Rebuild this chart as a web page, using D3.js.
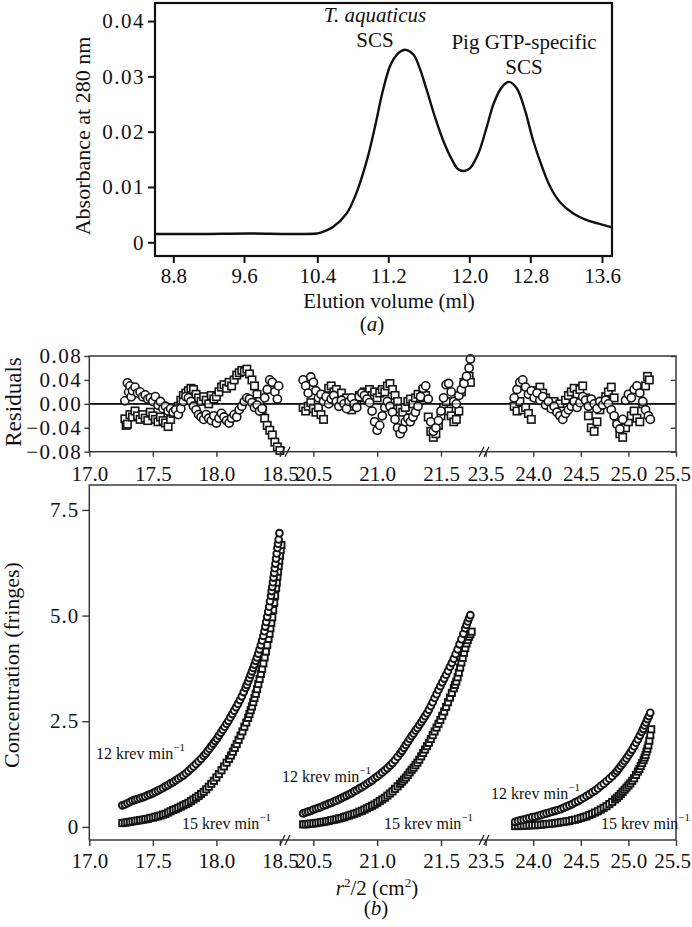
<!DOCTYPE html>
<html><head><meta charset="utf-8">
<script src="https://cdn.jsdelivr.net/npm/d3@7"></script>
<style>
body{margin:0;background:#fff;}
svg text{font-family:"Liberation Serif","Times New Roman",serif;fill:#111;}
</style></head><body>
<svg id="chart" width="692" height="927"></svg>
<script>
// ---------- Panel (a) data ----------
const elutionTicks = [8.8, 9.6, 10.4, 11.2, 12.0, 12.8, 13.6];
const absTicks = [0, 0.01, 0.02, 0.03, 0.04];
const elutionVolume = [8.59,9.10,9.67,10.10,10.40,10.43,10.58,10.73,10.84,10.96,11.05,11.14,11.23,11.32,11.375,11.45,11.51,11.58,11.66,11.74,11.83,11.89,11.95,12.01,12.12,12.23,12.32,12.43,12.52,12.62,12.73,12.83,12.93,13.02,13.13,13.28,13.43,13.58,13.69,13.71];
const absorbance = [0.0015,0.0015,0.0016,0.0015,0.0016,0.0017,0.0028,0.0052,0.0089,0.0149,0.0209,0.0275,0.0324,0.0345,0.0348,0.0339,0.0315,0.0275,0.0227,0.0185,0.0149,0.0132,0.0129,0.0134,0.0161,0.0209,0.0251,0.0281,0.0290,0.0279,0.0239,0.0185,0.0137,0.0101,0.0073,0.0052,0.0040,0.0033,0.0028,0.0027];

// ---------- Panel (b) data ----------
const r2Ticks = [17.0,17.5,18.0,18.5,20.5,21.0,21.5,23.5,24.0,24.5,25.0,25.5];
const residTicks = [-0.08,-0.04,0,0.04,0.08];
const concTicks = [0, 2.5, 5.0, 7.5];
const rpmLabels = ["12 krev min", "15 krev min"];

// concentration readings: 12 krev/min (circles), 15 krev/min (squares)
const conc12A = [[17.26,0.51],[17.28,0.53],[17.30,0.56],[17.32,0.59],[17.34,0.62],[17.36,0.64],[17.38,0.66],[17.40,0.68],[17.42,0.70],[17.44,0.72],[17.46,0.75],[17.48,0.77],[17.50,0.80],[17.52,0.83],[17.54,0.86],[17.56,0.89],[17.58,0.92],[17.60,0.96],[17.62,0.99],[17.64,1.03],[17.66,1.06],[17.68,1.10],[17.70,1.14],[17.72,1.18],[17.74,1.22],[17.76,1.27],[17.78,1.32],[17.80,1.38],[17.82,1.43],[17.84,1.49],[17.86,1.55],[17.88,1.61],[17.90,1.68],[17.915,1.73],[17.93,1.79],[17.945,1.85],[17.96,1.91],[17.975,1.97],[17.99,2.03],[18.005,2.09],[18.02,2.16],[18.035,2.23],[18.05,2.30],[18.065,2.37],[18.08,2.44],[18.095,2.51],[18.11,2.59],[18.125,2.67],[18.14,2.75],[18.155,2.83],[18.17,2.91],[18.185,3.00],[18.20,3.09],[18.215,3.19],[18.23,3.29],[18.24,3.36],[18.25,3.44],[18.26,3.52],[18.27,3.60],[18.28,3.68],[18.29,3.76],[18.30,3.84],[18.31,3.93],[18.32,4.01],[18.33,4.10],[18.34,4.20],[18.35,4.30],[18.36,4.41],[18.37,4.52],[18.378,4.63],[18.385,4.74],[18.392,4.85],[18.40,4.97],[18.408,5.09],[18.415,5.21],[18.422,5.34],[18.43,5.47],[18.435,5.58],[18.44,5.68],[18.445,5.79],[18.45,5.90],[18.455,6.01],[18.46,6.12],[18.465,6.23],[18.47,6.35],[18.475,6.47],[18.48,6.60],[18.485,6.70],[18.49,6.80],[18.496,6.95]];
const conc15A = [[17.26,0.09],[17.28,0.10],[17.30,0.11],[17.32,0.12],[17.34,0.13],[17.36,0.14],[17.38,0.15],[17.40,0.16],[17.42,0.17],[17.44,0.18],[17.46,0.19],[17.48,0.21],[17.50,0.22],[17.52,0.24],[17.54,0.25],[17.56,0.27],[17.58,0.29],[17.60,0.31],[17.62,0.34],[17.64,0.37],[17.66,0.40],[17.68,0.42],[17.70,0.45],[17.72,0.48],[17.74,0.51],[17.76,0.54],[17.78,0.57],[17.80,0.61],[17.82,0.65],[17.84,0.69],[17.86,0.73],[17.88,0.78],[17.90,0.83],[17.92,0.89],[17.94,0.95],[17.96,1.02],[17.98,1.09],[18.00,1.17],[18.02,1.25],[18.04,1.34],[18.06,1.43],[18.08,1.52],[18.10,1.61],[18.115,1.69],[18.13,1.78],[18.145,1.87],[18.16,1.96],[18.175,2.06],[18.19,2.16],[18.205,2.26],[18.22,2.37],[18.235,2.47],[18.25,2.58],[18.26,2.67],[18.27,2.76],[18.28,2.85],[18.29,2.95],[18.30,3.05],[18.31,3.15],[18.32,3.26],[18.33,3.38],[18.34,3.50],[18.35,3.62],[18.36,3.74],[18.37,3.87],[18.38,4.01],[18.39,4.15],[18.40,4.30],[18.41,4.45],[18.418,4.57],[18.425,4.70],[18.432,4.83],[18.44,4.96],[18.447,5.13],[18.455,5.30],[18.462,5.47],[18.47,5.65],[18.475,5.78],[18.48,5.92],[18.485,6.04],[18.49,6.17],[18.495,6.30],[18.50,6.42],[18.506,6.55],[18.512,6.67]];
const conc12B = [[20.42,0.32],[20.44,0.34],[20.46,0.36],[20.48,0.38],[20.50,0.41],[20.52,0.43],[20.54,0.45],[20.56,0.47],[20.58,0.50],[20.60,0.52],[20.62,0.55],[20.64,0.57],[20.66,0.60],[20.68,0.62],[20.70,0.65],[20.72,0.68],[20.74,0.71],[20.76,0.74],[20.78,0.77],[20.80,0.80],[20.82,0.84],[20.84,0.87],[20.86,0.91],[20.88,0.94],[20.90,0.98],[20.92,1.02],[20.94,1.06],[20.96,1.10],[20.98,1.15],[21.00,1.19],[21.02,1.24],[21.04,1.29],[21.06,1.34],[21.08,1.39],[21.10,1.45],[21.12,1.51],[21.14,1.58],[21.16,1.66],[21.18,1.74],[21.195,1.80],[21.21,1.87],[21.225,1.94],[21.24,2.01],[21.255,2.08],[21.27,2.15],[21.285,2.21],[21.30,2.28],[21.315,2.34],[21.33,2.41],[21.345,2.48],[21.36,2.55],[21.375,2.62],[21.39,2.69],[21.405,2.77],[21.42,2.86],[21.435,2.95],[21.45,3.05],[21.465,3.14],[21.48,3.24],[21.495,3.33],[21.51,3.42],[21.525,3.51],[21.54,3.60],[21.555,3.69],[21.57,3.79],[21.585,3.88],[21.60,3.98],[21.615,4.09],[21.63,4.20],[21.645,4.32],[21.66,4.44],[21.675,4.57],[21.69,4.70],[21.70,4.78],[21.71,4.86],[21.72,4.94],[21.73,5.01]];
const conc15B = [[20.42,0.06],[20.44,0.06],[20.46,0.07],[20.48,0.08],[20.50,0.08],[20.52,0.09],[20.54,0.10],[20.56,0.11],[20.58,0.12],[20.60,0.13],[20.62,0.14],[20.64,0.16],[20.66,0.17],[20.68,0.18],[20.70,0.20],[20.72,0.21],[20.74,0.23],[20.76,0.25],[20.78,0.27],[20.80,0.29],[20.82,0.31],[20.84,0.33],[20.86,0.36],[20.88,0.38],[20.90,0.41],[20.92,0.44],[20.94,0.47],[20.96,0.50],[20.98,0.53],[21.00,0.57],[21.02,0.61],[21.04,0.65],[21.06,0.69],[21.08,0.74],[21.10,0.79],[21.12,0.84],[21.14,0.90],[21.16,0.96],[21.18,1.02],[21.195,1.07],[21.21,1.12],[21.225,1.17],[21.24,1.23],[21.255,1.29],[21.27,1.35],[21.285,1.40],[21.30,1.46],[21.315,1.52],[21.33,1.59],[21.345,1.67],[21.36,1.75],[21.375,1.83],[21.39,1.91],[21.405,1.99],[21.42,2.08],[21.435,2.17],[21.45,2.26],[21.465,2.35],[21.48,2.44],[21.495,2.53],[21.51,2.63],[21.525,2.73],[21.54,2.84],[21.555,2.95],[21.57,3.06],[21.585,3.17],[21.60,3.28],[21.61,3.36],[21.62,3.44],[21.63,3.54],[21.64,3.65],[21.65,3.77],[21.66,3.89],[21.67,4.00],[21.68,4.12],[21.69,4.23],[21.70,4.34],[21.71,4.42],[21.72,4.50],[21.73,4.56],[21.74,4.62]];
const conc12C = [[23.81,0.12],[23.84,0.14],[23.87,0.16],[23.90,0.17],[23.93,0.19],[23.96,0.21],[23.99,0.23],[24.02,0.24],[24.05,0.26],[24.08,0.28],[24.11,0.30],[24.14,0.32],[24.17,0.34],[24.20,0.36],[24.23,0.38],[24.26,0.40],[24.29,0.42],[24.32,0.45],[24.35,0.48],[24.38,0.51],[24.41,0.54],[24.44,0.58],[24.47,0.61],[24.50,0.65],[24.53,0.69],[24.56,0.73],[24.59,0.77],[24.62,0.82],[24.65,0.86],[24.68,0.91],[24.71,0.97],[24.74,1.02],[24.77,1.08],[24.80,1.14],[24.83,1.20],[24.86,1.27],[24.88,1.32],[24.90,1.38],[24.92,1.44],[24.94,1.50],[24.96,1.56],[24.98,1.62],[25.00,1.69],[25.02,1.76],[25.04,1.83],[25.06,1.91],[25.08,1.99],[25.10,2.07],[25.12,2.16],[25.14,2.25],[25.155,2.32],[25.17,2.40],[25.185,2.47],[25.20,2.55],[25.215,2.62],[25.23,2.70]];
const conc15C = [[23.81,0.02],[23.84,0.02],[23.87,0.03],[23.90,0.03],[23.93,0.03],[23.96,0.04],[23.99,0.04],[24.02,0.04],[24.05,0.05],[24.08,0.05],[24.11,0.06],[24.14,0.07],[24.17,0.07],[24.20,0.08],[24.23,0.09],[24.26,0.10],[24.29,0.11],[24.32,0.12],[24.35,0.13],[24.38,0.14],[24.41,0.16],[24.44,0.17],[24.47,0.19],[24.50,0.21],[24.53,0.23],[24.56,0.25],[24.59,0.28],[24.62,0.31],[24.65,0.34],[24.68,0.37],[24.71,0.41],[24.74,0.45],[24.77,0.49],[24.80,0.54],[24.83,0.59],[24.86,0.65],[24.88,0.69],[24.90,0.73],[24.92,0.78],[24.94,0.83],[24.96,0.88],[24.98,0.93],[25.00,0.98],[25.02,1.03],[25.04,1.09],[25.06,1.15],[25.08,1.23],[25.10,1.31],[25.115,1.37],[25.13,1.44],[25.145,1.51],[25.16,1.58],[25.17,1.64],[25.18,1.70],[25.19,1.78],[25.20,1.85],[25.21,1.93],[25.22,2.04],[25.23,2.17],[25.24,2.31]];

// residual readings
const resid12A = [[17.28,0.005],[17.30,0.035],[17.31,0.020],[17.32,0.030],[17.33,0.012],[17.34,0.022],[17.36,0.028],[17.38,0.018],[17.40,0.020],[17.42,0.012],[17.44,0.015],[17.46,0.008],[17.48,0.010],[17.50,0.004],[17.52,0.012],[17.54,-0.002],[17.56,0.004],[17.58,-0.008],[17.60,-0.004],[17.62,-0.012],[17.64,-0.008],[17.66,-0.014],[17.68,-0.010],[17.70,-0.018],[17.72,-0.008],[17.74,0.004],[17.76,0.012],[17.78,0.010],[17.80,0.004],[17.82,-0.004],[17.84,-0.010],[17.86,-0.018],[17.88,-0.022],[17.90,-0.026],[17.92,-0.018],[17.94,-0.024],[17.96,-0.028],[17.98,-0.020],[18.00,-0.032],[18.02,-0.024],[18.04,-0.016],[18.06,-0.022],[18.08,-0.028],[18.10,-0.032],[18.12,-0.024],[18.14,-0.018],[18.16,-0.022],[18.18,-0.010],[18.20,-0.004],[18.22,0.004],[18.24,0.010],[18.26,0.008],[18.28,0.002],[18.30,-0.006],[18.32,-0.002],[18.34,-0.012],[18.36,-0.008],[18.38,0.010],[18.40,0.024],[18.42,0.040],[18.44,0.036],[18.46,0.020],[18.48,0.008],[18.49,0.030]];
const resid15A = [[17.28,-0.025],[17.29,-0.036],[17.30,-0.034],[17.32,-0.018],[17.34,-0.022],[17.36,-0.012],[17.38,-0.020],[17.40,-0.026],[17.42,-0.018],[17.44,-0.024],[17.46,-0.028],[17.48,-0.014],[17.50,-0.020],[17.52,-0.026],[17.54,-0.030],[17.56,-0.022],[17.58,-0.028],[17.60,-0.032],[17.62,-0.038],[17.64,-0.026],[17.66,-0.016],[17.68,-0.010],[17.70,-0.004],[17.72,0.006],[17.74,0.014],[17.76,0.018],[17.78,0.022],[17.80,0.026],[17.82,0.024],[17.84,0.016],[17.86,0.010],[17.88,0.004],[17.90,0.012],[17.92,0.006],[17.94,0.000],[17.96,0.014],[17.98,0.008],[18.00,0.012],[18.02,0.020],[18.04,0.028],[18.06,0.032],[18.08,0.026],[18.10,0.036],[18.12,0.030],[18.14,0.040],[18.16,0.048],[18.18,0.052],[18.20,0.056],[18.22,0.054],[18.24,0.058],[18.26,0.050],[18.28,0.040],[18.30,0.030],[18.32,0.016],[18.34,0.004],[18.36,-0.010],[18.38,-0.024],[18.40,-0.036],[18.42,-0.044],[18.44,-0.052],[18.46,-0.064],[18.48,-0.072],[18.50,-0.078]];
const resid12B = [[20.42,0.040],[20.44,0.030],[20.46,0.018],[20.48,0.045],[20.50,0.036],[20.52,0.022],[20.54,0.010],[20.56,0.016],[20.58,0.004],[20.60,0.012],[20.62,0.000],[20.64,0.008],[20.66,0.014],[20.68,0.004],[20.70,-0.004],[20.72,0.006],[20.74,0.000],[20.76,-0.008],[20.78,0.004],[20.80,0.010],[20.82,0.000],[20.84,-0.006],[20.86,0.012],[20.88,0.018],[20.90,0.014],[20.92,0.008],[20.94,0.002],[20.96,-0.012],[20.98,-0.030],[21.00,-0.044],[21.02,-0.036],[21.04,-0.020],[21.06,-0.006],[21.08,0.004],[21.10,-0.004],[21.12,-0.014],[21.14,-0.026],[21.16,-0.040],[21.18,-0.050],[21.20,-0.042],[21.22,-0.030],[21.24,-0.024],[21.26,-0.030],[21.28,-0.022],[21.30,-0.014],[21.32,-0.004],[21.34,0.012],[21.36,0.026],[21.38,0.030],[21.40,0.008],[21.42,-0.030],[21.44,-0.046],[21.46,-0.040],[21.48,-0.028],[21.50,-0.012],[21.52,0.010],[21.54,0.032],[21.56,0.034],[21.58,0.020],[21.60,0.004],[21.62,0.000],[21.64,0.014],[21.66,0.024],[21.68,0.034],[21.70,0.046],[21.72,0.060],[21.73,0.075]];
const resid15B = [[20.42,-0.006],[20.44,-0.012],[20.46,-0.004],[20.48,0.002],[20.50,-0.008],[20.52,-0.014],[20.54,-0.006],[20.56,-0.018],[20.58,-0.026],[20.60,0.010],[20.62,0.026],[20.64,0.030],[20.66,0.020],[20.68,0.024],[20.70,0.012],[20.72,0.018],[20.74,0.006],[20.76,0.010],[20.78,-0.004],[20.80,-0.010],[20.82,-0.004],[20.84,0.006],[20.86,0.014],[20.88,0.010],[20.90,0.020],[20.92,0.016],[20.94,0.024],[20.96,0.014],[20.98,0.020],[21.00,0.010],[21.02,0.018],[21.04,0.024],[21.06,0.020],[21.08,0.030],[21.10,0.034],[21.12,0.024],[21.14,0.014],[21.16,0.004],[21.18,-0.008],[21.20,-0.014],[21.22,-0.006],[21.24,0.004],[21.26,0.008],[21.28,0.000],[21.30,0.010],[21.32,0.016],[21.34,0.010],[21.36,0.022],[21.38,0.014],[21.40,-0.022],[21.42,-0.046],[21.44,-0.056],[21.46,-0.050],[21.48,-0.036],[21.50,-0.020],[21.52,-0.006],[21.54,0.004],[21.56,-0.012],[21.58,-0.020],[21.60,-0.030],[21.62,-0.026],[21.64,-0.012],[21.66,0.020],[21.68,0.036],[21.70,0.040],[21.72,0.046],[21.73,0.036]];
const resid12C = [[23.80,0.010],[23.83,0.024],[23.86,0.036],[23.89,0.040],[23.92,0.028],[23.95,0.016],[23.98,0.022],[24.01,0.010],[24.04,0.018],[24.07,0.006],[24.10,0.012],[24.13,-0.002],[24.16,0.004],[24.19,-0.008],[24.22,-0.004],[24.25,-0.014],[24.28,-0.020],[24.31,-0.026],[24.34,-0.016],[24.37,-0.010],[24.40,-0.004],[24.43,0.004],[24.46,-0.006],[24.49,0.002],[24.52,0.012],[24.55,0.006],[24.58,-0.004],[24.61,0.008],[24.64,0.000],[24.67,-0.008],[24.70,0.004],[24.73,-0.002],[24.76,0.006],[24.79,0.000],[24.82,-0.010],[24.85,-0.020],[24.88,-0.034],[24.91,-0.042],[24.94,-0.026],[24.97,0.006],[25.00,0.016],[25.03,0.010],[25.06,0.024],[25.09,0.030],[25.12,0.018],[25.15,0.004],[25.18,-0.010],[25.21,-0.020],[25.23,-0.026]];
const resid15C = [[23.80,-0.004],[23.83,-0.012],[23.86,0.004],[23.89,-0.010],[23.92,-0.006],[23.95,-0.016],[23.98,-0.026],[24.01,0.012],[24.04,0.022],[24.07,0.028],[24.10,0.018],[24.13,0.010],[24.16,0.002],[24.19,-0.006],[24.22,0.004],[24.25,-0.010],[24.28,0.000],[24.31,-0.012],[24.34,0.006],[24.37,0.014],[24.40,0.020],[24.43,0.026],[24.46,0.016],[24.49,0.024],[24.52,0.030],[24.55,0.010],[24.58,-0.020],[24.61,-0.040],[24.64,-0.046],[24.67,-0.030],[24.70,-0.010],[24.73,0.004],[24.76,0.012],[24.79,0.020],[24.82,0.028],[24.85,0.010],[24.88,-0.030],[24.91,-0.050],[24.94,-0.056],[24.97,-0.040],[25.00,-0.030],[25.03,-0.020],[25.06,-0.012],[25.09,-0.024],[25.12,-0.030],[25.15,0.000],[25.18,0.030],[25.20,0.046],[25.22,0.040]];

// ---------- drawing ----------
const svg = d3.select("#chart");
const FS = 21;
const SERIF = '"Liberation Serif","Times New Roman",serif';

// Panel (a)
const aBox = {l:155, r:612, t:3, b:256};
const xA = d3.scaleLinear().domain(elutionTicks).range([173.3,244,317.3,388.3,469.3,530.3,602]);
const yA = d3.scaleLinear().domain([-0.00248, 0.04327]).range([aBox.b, aBox.t]);
const gA = svg.append("g");

gA.append("path")
  .datum(d3.zip(elutionVolume, absorbance))
  .attr("fill","none").attr("stroke","#111").attr("stroke-width",2.4)
  .attr("d", d3.line().x(d=>xA(d[0])).y(d=>yA(d[1])).curve(d3.curveCatmullRom));

const axA_x = gA.append("g").attr("transform",`translate(0,${aBox.b})`)
  .call(d3.axisBottom(xA).tickValues(elutionTicks).tickFormat(d3.format(".1f")).tickSize(7).tickPadding(5));
const axA_y = gA.append("g").attr("transform",`translate(${aBox.l},0)`)
  .call(d3.axisLeft(yA).tickValues(absTicks).tickFormat(d=> d===0?"0":d3.format(".2f")(d)).tickSize(7).tickPadding(3));
[axA_x, axA_y].forEach(g=>{
  g.attr("font-family",SERIF);
  g.select(".domain").remove();
  g.selectAll(".tick line").attr("stroke","#111").attr("stroke-width",2);
  g.selectAll("text").attr("font-size",FS).attr("fill","#111");
});
axA_y.selectAll("text").attr("letter-spacing","1.5px");
gA.append("rect").attr("x",aBox.l).attr("y",aBox.t).attr("width",aBox.r-aBox.l).attr("height",aBox.b-aBox.t)
  .attr("fill","none").attr("stroke","#111").attr("stroke-width",2.2);

// annotations (a)
const ann = gA.append("g").attr("font-size",FS).attr("text-anchor","middle");
ann.append("text").attr("x",375).attr("y",22).attr("font-style","italic").text("T. aquaticus");
ann.append("text").attr("x",375).attr("y",47).text("SCS");
ann.append("text").attr("x",524).attr("y",49).text("Pig GTP-specific");
ann.append("text").attr("x",524).attr("y",74).text("SCS");
gA.append("text").attr("x",389).attr("y",308).attr("font-size",FS).attr("text-anchor","middle").text("Elution volume (ml)");
const la = gA.append("text").attr("x",372).attr("y",331).attr("font-size",FS).attr("text-anchor","middle");
la.append("tspan").text("(");
la.append("tspan").attr("font-style","italic").text("a");
la.append("tspan").text(")");
gA.append("text").attr("transform","translate(90,136) rotate(-90)").attr("font-size",22).attr("text-anchor","middle").text("Absorbance at 280 nm");

// Panel (b)
const xB = d3.scaleLinear().domain([17.0,18.54,20.278,21.829,23.5,25.5]).range([89.3,285,285,483,485.6,676]);
const rBox = {l:89.3, r:676, t:356, b:451.7};
const cBox = {l:89.3, r:676, t:485, b:840};
const yR = d3.scaleLinear().domain([-0.08,0.08]).range([rBox.b, rBox.t]);
const yC = d3.scaleLinear().domain([-0.31, 8.09]).range([cBox.b, cBox.t]);
const frameCol = "#3a3a3a";

function styleAxis(g){
  g.attr("font-family",SERIF);
  g.select(".domain").remove();
  g.selectAll(".tick line").attr("stroke",frameCol).attr("stroke-width",1.4);
  g.selectAll("text").attr("font-size",FS).attr("fill","#111");
}
function frame(box){
  svg.append("rect").attr("x",box.l).attr("y",box.t).attr("width",box.r-box.l).attr("height",box.b-box.t)
    .attr("fill","none").attr("stroke",frameCol).attr("stroke-width",1.5);
}
function breaks(y){
  [285, 484].forEach(x=>{
    [-2.5, 2.5].forEach(o=>{
      svg.append("line").attr("x1",x+o-2.5).attr("y1",y+5).attr("x2",x+o+2.5).attr("y2",y-5)
        .attr("stroke","#222").attr("stroke-width",1.3);
    });
  });
}
function drawMarkers(g, data, yS, shape, size, sw){
  if(shape==="circle"){
    g.selectAll(null).data(data).enter().append("circle")
      .attr("cx",d=>xB(d[0])).attr("cy",d=>yS(d[1])).attr("r",size)
      .attr("fill","#fff").attr("stroke","#141414").attr("stroke-width",sw);
  } else {
    g.selectAll(null).data(data).enter().append("rect")
      .attr("x",d=>xB(d[0])-size).attr("y",d=>yS(d[1])-size).attr("width",2*size).attr("height",2*size)
      .attr("fill","#fff").attr("stroke","#141414").attr("stroke-width",sw);
  }
}
function fixLastLabel(g){
  g.selectAll(".tick text").filter(d=>d===25.5).attr("dx",-4);
}

// residuals
const gR = svg.append("g");
gR.append("line").attr("x1",rBox.l).attr("x2",rBox.r).attr("y1",yR(0)).attr("y2",yR(0)).attr("stroke","#111").attr("stroke-width",1.6);
[resid15A, resid15B, resid15C].forEach(s=>drawMarkers(gR, s, yR, "square", 3.7, 1.6));
[resid12A, resid12B, resid12C].forEach(s=>drawMarkers(gR, s, yR, "circle", 4.1, 1.6));
gR.append("line").attr("x1",rBox.l).attr("x2",rBox.r).attr("y1",yR(0)).attr("y2",yR(0)).attr("stroke","#111").attr("stroke-width",1.2).attr("stroke-opacity",0.55);
frame(rBox);
const axR_x = svg.append("g").attr("transform",`translate(0,${rBox.b})`)
  .call(d3.axisBottom(xB).tickValues(r2Ticks).tickFormat(d3.format(".1f")).tickSize(5).tickPadding(9));
const axR_y = svg.append("g").attr("transform",`translate(${rBox.l},0)`)
  .call(d3.axisLeft(yR).tickValues(residTicks).tickFormat(d3.format(".2f")).tickSize(5).tickPadding(2));
const axR_y2 = svg.append("g").attr("transform",`translate(${rBox.r},0)`)
  .call(d3.axisRight(yR).tickValues(residTicks).tickFormat("").tickSize(-5));
[axR_x, axR_y, axR_y2].forEach(styleAxis);
fixLastLabel(axR_x);
axR_y.selectAll("text").attr("letter-spacing","1.5px");
breaks(rBox.b);
svg.append("text").attr("transform","translate(21,402) rotate(-90)").attr("font-size",23).attr("text-anchor","middle").text("Residuals");

// concentrations
const gC = svg.append("g");
[conc15A, conc15B, conc15C].forEach(s=>drawMarkers(gC, s, yC, "square", 3.1, 1.9));
[conc12A, conc12B, conc12C].forEach(s=>drawMarkers(gC, s, yC, "circle", 3.4, 1.9));
frame(cBox);
const axC_x = svg.append("g").attr("transform",`translate(0,${cBox.b})`)
  .call(d3.axisBottom(xB).tickValues(r2Ticks).tickFormat(d3.format(".1f")).tickSize(6).tickPadding(7));
const axC_y = svg.append("g").attr("transform",`translate(${cBox.l},0)`)
  .call(d3.axisLeft(yC).tickValues(concTicks).tickFormat(d=> d===0?"0":d3.format(".1f")(d)).tickSize(7).tickPadding(3));
[axC_x, axC_y].forEach(styleAxis);
fixLastLabel(axC_x);
axC_y.selectAll("text").attr("letter-spacing","1px");
breaks(cBox.b);
svg.append("text").attr("transform","translate(19,665) rotate(-90)").attr("font-size",22).attr("text-anchor","middle").text("Concentration (fringes)");

// speed labels
const labelPos = [[96,759,0],[182,829,1],[282,782,0],[384,829,1],[491,799,0],[601,829,1]];
labelPos.forEach(([x,y,i])=>{
  const t = svg.append("text").attr("x",x).attr("y",y).attr("font-size",16);
  t.append("tspan").text(rpmLabels[i]);
  t.append("tspan").attr("font-size",11).attr("dy",-8).text("\u22121");
});

// x title (b)
const xt = svg.append("text").attr("x",377).attr("y",895).attr("font-size",FS).attr("text-anchor","middle");
xt.append("tspan").attr("font-style","italic").text("r");
xt.append("tspan").attr("font-size",13).attr("dy",-8).text("2");
xt.append("tspan").attr("dy",8).text("/2 (cm");
xt.append("tspan").attr("font-size",13).attr("dy",-8).text("2");
xt.append("tspan").attr("dy",8).text(")");
const lb = svg.append("text").attr("x",376).attr("y",915).attr("font-size",FS).attr("text-anchor","middle");
lb.append("tspan").text("(");
lb.append("tspan").attr("font-style","italic").text("b");
lb.append("tspan").text(")");
</script>
</body></html>
